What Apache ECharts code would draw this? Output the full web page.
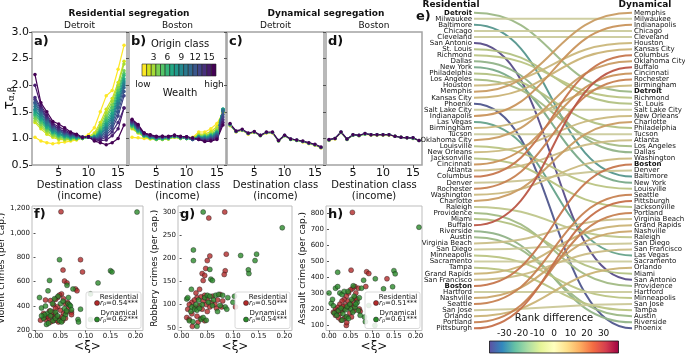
<!DOCTYPE html>
<html>
<head>
<meta charset="utf-8">
<script src="https://cdn.jsdelivr.net/npm/echarts@6/dist/echarts.min.js"></script>
<style>
html, body { margin: 0; padding: 0; background: #fff; }
#chart { width: 685px; height: 354px; }
</style>
</head>
<body>
<div id="chart"></div>
<script>
// ---- data ----
const destClasses = [1, 2, 3, 4, 5, 6, 7, 8, 9, 10, 11, 12, 13, 14, 15, 16];
const originClasses = [1, 2, 3, 4, 5, 6, 7, 8, 9, 10, 11, 12, 13, 14, 15, 16];

// tau per origin class (rows, class 1 = low wealth) over destination classes
const detroitResidential = [
  [1.02, 0.95, 0.92, 0.90, 0.92, 0.93, 0.95, 0.97, 1.02, 1.07, 1.20, 1.50, 1.80, 1.90, 2.30, 2.75],
  [1.30, 1.18, 1.08, 1.02, 0.98, 0.97, 0.97, 0.98, 1.00, 1.03, 1.10, 1.30, 1.55, 1.75, 2.05, 2.45],
  [1.33, 1.22, 1.12, 1.05, 1.00, 0.98, 0.98, 0.99, 1.00, 1.02, 1.07, 1.25, 1.48, 1.70, 2.00, 2.40],
  [1.38, 1.26, 1.15, 1.07, 1.02, 1.00, 0.99, 1.00, 1.00, 1.02, 1.05, 1.20, 1.42, 1.63, 1.95, 2.27],
  [1.42, 1.30, 1.18, 1.09, 1.04, 1.01, 1.00, 1.00, 1.00, 1.02, 1.04, 1.17, 1.38, 1.58, 1.90, 2.22],
  [1.45, 1.33, 1.20, 1.11, 1.06, 1.03, 1.01, 1.01, 1.01, 1.02, 1.03, 1.14, 1.33, 1.52, 1.85, 2.18],
  [1.48, 1.36, 1.22, 1.12, 1.07, 1.04, 1.02, 1.01, 1.01, 1.02, 1.03, 1.12, 1.28, 1.47, 1.80, 2.12],
  [1.52, 1.39, 1.25, 1.14, 1.09, 1.05, 1.03, 1.02, 1.01, 1.02, 1.02, 1.10, 1.25, 1.42, 1.75, 2.08],
  [1.55, 1.42, 1.27, 1.16, 1.10, 1.06, 1.04, 1.03, 1.02, 1.02, 1.02, 1.08, 1.21, 1.38, 1.70, 2.04],
  [1.60, 1.45, 1.30, 1.18, 1.12, 1.08, 1.05, 1.04, 1.02, 1.02, 1.01, 1.06, 1.18, 1.33, 1.65, 2.00],
  [1.65, 1.48, 1.33, 1.20, 1.14, 1.09, 1.06, 1.04, 1.02, 1.02, 1.00, 1.04, 1.14, 1.28, 1.58, 1.95],
  [1.68, 1.52, 1.36, 1.22, 1.15, 1.10, 1.07, 1.05, 1.02, 1.02, 1.00, 1.02, 1.10, 1.23, 1.50, 1.88],
  [1.73, 1.55, 1.38, 1.24, 1.17, 1.12, 1.08, 1.05, 1.02, 1.02, 0.99, 1.00, 1.06, 1.18, 1.42, 1.80],
  [1.77, 1.58, 1.40, 1.26, 1.18, 1.13, 1.09, 1.06, 1.02, 1.03, 0.98, 0.98, 1.02, 1.12, 1.30, 1.57],
  [2.00, 1.62, 1.44, 1.28, 1.22, 1.16, 1.10, 1.07, 1.01, 1.03, 0.97, 0.96, 0.97, 1.05, 1.18, 1.57],
  [2.20, 1.67, 1.50, 1.32, 1.27, 1.20, 1.12, 1.08, 1.02, 1.03, 0.95, 0.92, 0.88, 0.92, 1.00, 1.25]
];
const bostonResidential = [
  [1.02, 1.01, 1.00, 0.99, 1.00, 1.00, 1.01, 1.03, 1.01, 1.00, 1.02, 1.12, 1.12, 1.18, 1.28, 1.48],
  [1.18, 1.10, 1.03, 1.00, 0.98, 0.98, 0.99, 1.02, 1.00, 1.00, 1.01, 1.08, 1.08, 1.13, 1.22, 1.50],
  [1.20, 1.11, 1.04, 1.00, 0.98, 0.98, 0.99, 1.03, 1.00, 1.00, 1.00, 1.06, 1.06, 1.10, 1.18, 1.52],
  [1.22, 1.12, 1.04, 1.01, 0.98, 0.99, 1.00, 1.03, 1.00, 1.00, 1.00, 1.05, 1.05, 1.08, 1.15, 1.53],
  [1.23, 1.13, 1.05, 1.01, 0.99, 0.99, 1.00, 1.04, 1.01, 1.00, 0.99, 1.04, 1.04, 1.07, 1.13, 1.54],
  [1.24, 1.14, 1.05, 1.02, 0.99, 1.00, 1.01, 1.04, 1.01, 1.00, 0.99, 1.03, 1.03, 1.06, 1.12, 1.55],
  [1.25, 1.15, 1.06, 1.02, 1.00, 1.00, 1.01, 1.04, 1.01, 1.00, 0.99, 1.03, 1.02, 1.05, 1.11, 1.55],
  [1.26, 1.16, 1.06, 1.03, 1.00, 1.01, 1.01, 1.04, 1.02, 1.01, 0.99, 1.02, 1.01, 1.04, 1.10, 1.55],
  [1.27, 1.17, 1.07, 1.03, 1.01, 1.01, 1.02, 1.05, 1.02, 1.01, 0.98, 1.02, 1.01, 1.03, 1.09, 1.54],
  [1.28, 1.18, 1.07, 1.04, 1.01, 1.02, 1.02, 1.05, 1.02, 1.01, 0.98, 1.01, 1.00, 1.02, 1.08, 1.52],
  [1.29, 1.19, 1.08, 1.04, 1.02, 1.02, 1.02, 1.05, 1.02, 1.01, 0.98, 1.01, 0.99, 1.01, 1.07, 1.50],
  [1.30, 1.20, 1.08, 1.05, 1.02, 1.02, 1.03, 1.05, 1.03, 1.02, 0.99, 1.00, 0.98, 1.00, 1.05, 1.45],
  [1.31, 1.21, 1.09, 1.05, 1.02, 1.03, 1.03, 1.05, 1.03, 1.02, 0.99, 1.00, 0.97, 0.99, 1.04, 1.40],
  [1.32, 1.22, 1.09, 1.06, 1.03, 1.03, 1.03, 1.06, 1.03, 1.02, 1.00, 0.99, 0.96, 0.98, 1.02, 1.35],
  [1.34, 1.24, 1.10, 1.06, 1.03, 1.04, 1.03, 1.06, 1.03, 1.03, 1.00, 0.98, 0.95, 0.96, 1.00, 1.30],
  [1.36, 1.26, 1.10, 1.07, 1.04, 1.04, 1.04, 1.06, 1.04, 1.03, 1.01, 0.98, 0.94, 0.95, 0.98, 1.25]
];
// dynamical curves nearly coincide; a few origin classes are enough
const dynClasses = [1, 6, 11, 16];
const detroitDynamical = [
  [1.24, 1.12, 1.15, 1.08, 1.11, 1.05, 1.10, 1.10, 0.95, 1.05, 0.98, 0.96, 0.93, 0.90, 0.87, 0.82],
  [1.25, 1.13, 1.16, 1.09, 1.12, 1.05, 1.11, 1.11, 0.95, 1.05, 0.98, 0.96, 0.94, 0.91, 0.88, 0.83],
  [1.26, 1.13, 1.16, 1.09, 1.12, 1.06, 1.11, 1.11, 0.96, 1.06, 0.99, 0.97, 0.94, 0.91, 0.88, 0.83],
  [1.28, 1.14, 1.17, 1.10, 1.13, 1.06, 1.12, 1.12, 0.96, 1.06, 0.99, 0.97, 0.95, 0.92, 0.89, 0.84]
];
const bostonDynamical = [
  [0.96, 0.99, 1.11, 0.98, 1.06, 1.05, 1.08, 1.06, 1.06, 1.06, 1.06, 1.04, 1.02, 1.01, 1.00, 0.96],
  [0.97, 1.00, 1.11, 0.98, 1.06, 1.05, 1.08, 1.07, 1.07, 1.07, 1.07, 1.04, 1.02, 1.01, 1.00, 0.96],
  [0.97, 1.00, 1.12, 0.99, 1.07, 1.06, 1.09, 1.07, 1.07, 1.07, 1.07, 1.04, 1.02, 1.01, 1.01, 0.96],
  [0.98, 1.00, 1.12, 0.99, 1.07, 1.06, 1.09, 1.07, 1.07, 1.07, 1.07, 1.04, 1.02, 1.01, 1.01, 0.96]
];
const classTicks = [5, 10, 15];
const colorbarTicks = [3, 6, 9, 12, 15];

// panel e: city rankings
const residentialOrder = ['Detroit', 'Milwaukee', 'Baltimore', 'Chicago', 'Cleveland', 'San Antonio', 'St. Louis',
  'Richmond', 'Dallas', 'New York', 'Philadelphia', 'Los Angeles', 'Houston', 'Memphis', 'Kansas City', 'Phoenix',
  'Salt Lake City', 'Indianapolis', 'Las Vegas', 'Birmingham', 'Tucson', 'Oklahoma City', 'Louisville', 'New Orleans',
  'Jacksonville', 'Cincinnati', 'Atlanta', 'Columbus', 'Denver', 'Rochester', 'Washington', 'Charlotte', 'Raleigh',
  'Providence', 'Miami', 'Buffalo', 'Riverside', 'Austin', 'Virginia Beach', 'San Diego', 'Minneapolis', 'Sacramento',
  'Tampa', 'Grand Rapids', 'San Francisco', 'Boston', 'Hartford', 'Nashville', 'Seattle', 'San Jose', 'Orlando',
  'Portland', 'Pittsburgh'];
const dynamicalOrder = ['Memphis', 'Milwaukee', 'Indianapolis', 'Chicago', 'Cleveland', 'Houston', 'Kansas City',
  'Columbus', 'Oklahoma City', 'Buffalo', 'Cincinnati', 'Rochester', 'Birmingham', 'Detroit', 'Richmond', 'St. Louis',
  'Salt Lake City', 'New Orleans', 'Charlotte', 'Philadelphia', 'Tucson', 'Atlanta', 'Los Angeles', 'Dallas',
  'Washington', 'Boston', 'Denver', 'Baltimore', 'New York', 'Louisville', 'Seattle', 'Pittsburgh', 'Jacksonville',
  'Portland', 'Virginia Beach', 'Grand Rapids', 'Nashville', 'Raleigh', 'San Diego', 'San Francisco', 'Las Vegas',
  'Sacramento', 'Orlando', 'Miami', 'San Antonio', 'Providence', 'Hartford', 'Minneapolis', 'San Jose', 'Tampa',
  'Austin', 'Riverside', 'Phoenix'];
const boldCities = ['Detroit', 'Boston'];
const rankTicks = [-30, -20, -10, 0, 10, 20, 30];

// panels f-h: [<xi>, crimes per cap.]
const xiTicks = [0, 0.05, 0.10, 0.15, 0.20];
const violentTicks = [200, 400, 600, 800, 1000, 1200];
const robberyTicks = [50, 100, 150, 200, 250, 300];
const assaultTicks = [100, 200, 300, 400, 500, 600, 700, 800];
const violentResidential = [[0.051,1173],[0.090,780],[0.094,680],[0.055,695],[0.058,605],[0.063,590],[0.080,540],
  [0.083,525],[0.072,350],[0.072,330],[0.052,500],[0.048,490],[0.044,470],[0.040,455],[0.030,445],[0.020,450],
  [0.036,410],[0.044,395],[0.050,365],[0.056,340],[0.040,335],[0.032,320],[0.026,300],[0.020,290],[0.010,285],
  [0.036,280],[0.046,270],[0.052,310],[0.060,420],[0.066,385],[0.040,380],[0.028,360],[0.016,340],[0.060,300],
  [0.034,350],[0.024,315],[0.046,300],[0.056,460],[0.064,430],[0.038,300],[0.018,310],[0.042,285],[0.030,270],
  [0.054,280],[0.062,350]];
const violentDynamical = [[0.203,1170],[0.048,780],[0.150,690],[0.153,680],[0.125,590],[0.110,500],[0.028,610],
  [0.025,525],[0.063,570],[0.075,540],[0.090,375],[0.110,290],[0.085,290],[0.086,270],[0.008,470],[0.012,385],
  [0.020,400],[0.024,340],[0.030,320],[0.016,300],[0.022,250],[0.026,260],[0.035,280],[0.040,300],[0.045,480],
  [0.050,420],[0.055,440],[0.058,380],[0.060,330],[0.065,420],[0.068,410],[0.070,400],[0.072,370],[0.048,280],
  [0.052,270],[0.038,460],[0.034,420],[0.040,350],[0.018,330],[0.030,360],[0.044,320],[0.056,300],[0.062,360],
  [0.066,470],[0.012,320]];
const robberyResidential = [[0.053,287],[0.084,300],[0.055,205],[0.050,195],[0.087,209],[0.047,178],[0.040,167],
  [0.045,163],[0.085,173],[0.083,165],[0.042,152],[0.035,133],[0.028,125],[0.030,115],[0.038,117],[0.045,120],
  [0.050,112],[0.060,118],[0.070,110],[0.075,122],[0.080,108],[0.020,105],[0.015,100],[0.025,95],[0.035,98],
  [0.040,90],[0.048,100],[0.055,95],[0.065,100],[0.010,72],[0.015,68],[0.020,80],[0.030,75],[0.038,70],[0.045,65],
  [0.021,53],[0.032,62],[0.050,85],[0.058,105],[0.105,95],[0.025,110],[0.012,90],[0.042,108],[0.068,92],[0.078,95]];
const robberyDynamical = [[0.042,300],[0.196,266],[0.023,218],[0.023,195],[0.055,176],[0.057,155],[0.060,152],
  [0.115,206],[0.146,209],[0.143,195],[0.130,175],[0.131,167],[0.103,118],[0.100,105],[0.019,133],[0.010,112],
  [0.012,115],[0.020,95],[0.025,90],[0.030,88],[0.035,92],[0.045,115],[0.050,120],[0.055,118],[0.062,110],
  [0.066,120],[0.072,122],[0.075,98],[0.085,95],[0.088,90],[0.090,115],[0.015,65],[0.022,63],[0.030,53],[0.038,68],
  [0.042,72],[0.048,66],[0.028,100],[0.040,100],[0.052,105],[0.060,98],[0.018,85],[0.033,110],[0.070,85],[0.080,120]];
const assaultResidential = [[0.054,805],[0.051,443],[0.087,433],[0.092,422],[0.134,389],[0.040,97],[0.041,115],
  [0.060,340],[0.055,330],[0.050,320],[0.045,300],[0.040,280],[0.035,260],[0.030,250],[0.025,230],[0.020,210],
  [0.015,200],[0.010,180],[0.015,160],[0.025,170],[0.030,190],[0.035,200],[0.045,210],[0.050,230],[0.055,250],
  [0.060,270],[0.065,260],[0.070,200],[0.072,185],[0.040,150],[0.035,140],[0.028,130],[0.048,175],[0.058,190],
  [0.062,300],[0.038,225],[0.022,145],[0.052,150],[0.085,340],[0.068,330],[0.044,250],[0.032,215],[0.018,185],
  [0.058,215]];
const assaultDynamical = [[0.208,712],[0.020,430],[0.150,440],[0.153,420],[0.107,389],[0.147,339],[0.126,326],
  [0.092,222],[0.082,149],[0.084,120],[0.106,97],[0.000,300],[0.005,235],[0.010,220],[0.015,330],[0.020,340],
  [0.025,300],[0.030,290],[0.035,310],[0.040,150],[0.045,140],[0.050,200],[0.055,180],[0.060,210],[0.065,240],
  [0.070,270],[0.075,330],[0.080,380],[0.012,175],[0.018,160],[0.022,190],[0.028,205],[0.032,170],[0.038,195],
  [0.042,215],[0.048,230],[0.052,260],[0.058,280],[0.062,230],[0.068,190],[0.072,160],[0.030,130],[0.044,310],
  [0.056,345],[0.008,260]];

// ---- styling ----
const FONT = 'DejaVu Sans';
const INK = '#111';
const VIRIDIS = ['#440154', '#481a6c', '#472f7d', '#414487', '#39568c', '#31688e', '#2a788e', '#23888e',
  '#1f988b', '#22a884', '#35b779', '#54c568', '#7ad151', '#a5db36', '#d2e21b', '#fde725'];
const SPECTRAL_R = ['#5e4fa2', '#3288bd', '#66c2a5', '#abdda4', '#e6f598', '#ffffbf', '#fee08b', '#fdae61',
  '#f46d43', '#d53e4f', '#9e0142'];
const RES_RED = '#b22a2a';
const DYN_GREEN = '#2a8a2a';

const classColor = c => VIRIDIS[16 - c];
const hexRgb = h => [1, 3, 5].map(i => parseInt(h.slice(i, i + 2), 16));
function spectralAt(t) {
  t = Math.max(0, Math.min(1, t));
  const n = SPECTRAL_R.length - 1;
  const i = Math.min(n - 1, Math.floor(t * n));
  const f = t * n - i;
  const a = hexRgb(SPECTRAL_R[i]), b = hexRgb(SPECTRAL_R[i + 1]);
  return a.map((v, k) => v + (b[k] - v) * f);
}

// rank change per city (residential position minus dynamical position)
const rankLinks = residentialOrder.map((city, i) => {
  const j = dynamicalOrder.indexOf(city);
  return [i, j, i - j];
});
const rankMax = Math.max(...rankLinks.map(d => Math.abs(d[2])));
function linkColor(diff) {
  const c = spectralAt((diff + rankMax) / (2 * rankMax)).map(v => Math.round(v * 0.72 + 68 * 0.28));
  return 'rgba(' + c.join(',') + ',0.95)';
}

const grid = [], xAxis = [], yAxis = [], series = [], graphic = [];
const txt = (text, x, y, size, opts = {}) => graphic.push({
  type: 'text', x, y, rotation: opts.rotation || 0, z: 50,
  style: {
    text, fill: INK, font: (opts.bold ? 'bold ' : '') + size + 'px "' + FONT + '"',
    textAlign: opts.align || 'center', textVerticalAlign: opts.valign || 'middle',
    align: opts.align || 'center', verticalAlign: opts.valign || 'middle', rich: opts.rich
  }
});

// ---- panels a-d ----
const TOP = 32, TOP_H = 133;
const topPanels = [
  { left: 32, width: 95, rows: detroitResidential, classes: originClasses, letter: 'a)', city: 'Detroit' },
  { left: 129, width: 97, rows: bostonResidential, classes: originClasses, letter: 'b)', city: 'Boston' },
  { left: 227, width: 97, rows: detroitDynamical, classes: dynClasses, letter: 'c)', city: 'Detroit' },
  { left: 326, width: 96, rows: bostonDynamical, classes: dynClasses, letter: 'd)', city: 'Boston' }
];
topPanels.forEach((p, i) => {
  grid.push({ left: p.left, top: TOP, width: p.width, height: TOP_H, show: true,
    borderColor: '#a3a3a3', borderWidth: 1.5, outerBoundsMode: 'none' });
  xAxis.push({ type: 'value', gridIndex: i, min: 0.5, max: 16.5, splitLine: { show: false },
    axisLine: { show: false },
    axisTick: { length: 3, customValues: classTicks, lineStyle: { color: '#555' } },
    axisLabel: { customValues: classTicks, fontSize: 11, color: INK, margin: 3, fontFamily: FONT },
    name: 'Destination class\n(income)', nameLocation: 'middle', nameGap: 14,
    nameTextStyle: { fontSize: 10, lineHeight: 11, color: INK, fontFamily: FONT } });
  yAxis.push({ type: 'value', gridIndex: i, min: 0.5, max: 3, interval: 0.5, splitLine: { show: false },
    axisLine: { show: false },
    axisTick: { show: true, length: 3, lineStyle: { color: '#555' } },
    axisLabel: { show: i === 0, formatter: v => v.toFixed(1), fontSize: 11, color: INK, margin: 3, fontFamily: FONT } });
  p.rows.forEach((row, k) => {
    const col = classColor(p.classes[k]);
    series.push({ type: 'line', xAxisIndex: i, yAxisIndex: i, symbol: 'circle', symbolSize: 3.5,
      data: row.map((v, j) => [destClasses[j], v]),
      lineStyle: { width: 1.2, color: col }, itemStyle: { color: col } });
  });
  txt(p.letter, p.left + 2, TOP + 3, 13, { bold: true, align: 'left', valign: 'top' });
  txt(p.city, p.left + p.width / 2, 26, 9);
});
txt('Residential segregation', 129, 14, 9, { bold: true });
txt('Dynamical segregation', 326, 14, 9, { bold: true });
// y label tau_{alpha,beta}
txt('{t|τ}{s|α,β}', 9, 98, 13, { rotation: Math.PI / 2,
  rich: { t: { fontSize: 14, fontFamily: FONT, fill: INK },
    s: { fontSize: 9, fontFamily: FONT, fill: INK, verticalAlign: 'bottom', padding: [5, 0, 0, 0] } } });

// colour bar of origin classes inside panel b
const cbGrid = grid.length;
grid.push({ left: 142, top: 64, width: 74, height: 12, outerBoundsMode: 'none' });
xAxis.push({ type: 'value', gridIndex: cbGrid, position: 'top', min: 0.5, max: 16.5, splitLine: { show: false },
  axisLine: { show: false }, axisTick: { show: false },
  axisLabel: { customValues: colorbarTicks, fontSize: 9, color: INK, margin: 2, fontFamily: FONT } });
yAxis.push({ type: 'value', gridIndex: cbGrid, min: 0, max: 1, show: false });
series.push({ type: 'custom', xAxisIndex: cbGrid, yAxisIndex: cbGrid, data: originClasses.map(c => [c]),
  encode: { x: 0 },
  renderItem: (params, api) => {
    const c = api.value(0);
    const a = api.coord([c - 0.5, 1]), b = api.coord([c + 0.5, 0]);
    return { type: 'rect', shape: { x: a[0], y: a[1], width: b[0] - a[0], height: b[1] - a[1] },
      style: { fill: classColor(c), stroke: '#222', lineWidth: 0.6 } };
  } });
txt('Origin class', 180, 44, 10);
txt('low', 143, 85, 9);
txt('high', 214, 85, 9);
txt('Wealth', 180, 93, 10);

// ---- panel e: rank changes ----
const eGrid = grid.length;
grid.push({ left: 474, top: 9.7, width: 158, height: 321.7, outerBoundsMode: 'none' });
xAxis.push({ type: 'value', gridIndex: eGrid, min: 0, max: 1, show: false });
const cityLabel = {
  interval: 0, fontSize: 7, color: INK, fontFamily: FONT, margin: 2,
  formatter: n => boldCities.includes(n) ? '{b|' + n + '}' : n,
  rich: { b: { fontSize: 7, fontWeight: 'bold', color: INK, fontFamily: FONT } }
};
const eLeft = yAxis.length;
yAxis.push({ type: 'category', gridIndex: eGrid, data: residentialOrder, inverse: true, position: 'left',
  axisLine: { show: false }, axisTick: { show: false }, axisLabel: cityLabel });
yAxis.push({ type: 'category', gridIndex: eGrid, data: dynamicalOrder, inverse: true, position: 'right',
  axisLine: { show: false }, axisTick: { show: false }, axisLabel: cityLabel });
series.push({ type: 'custom', xAxisIndex: eGrid, yAxisIndex: eLeft, data: rankLinks,
  encode: { y: 0, x: 2 },
  renderItem: (params, api) => {
    const p1 = api.coord([0, api.value(0)]);
    const p2 = api.coord([1, api.value(1)]);
    const mx = (p1[0] + p2[0]) / 2;
    return { type: 'bezierCurve',
      shape: { x1: p1[0], y1: p1[1], x2: p2[0], y2: p2[1], cpx1: mx, cpy1: p1[1], cpx2: mx, cpy2: p2[1] },
      style: { stroke: linkColor(api.value(2)), lineWidth: 2, fill: null } };
  } });
txt('Residential', 451, 5, 9, { bold: true });
txt('Dynamical', 645, 5, 9, { bold: true });
txt('e)', 416, 17, 13, { bold: true, align: 'left' });

// rank difference colour bar
const rGrid = grid.length;
grid.push({ left: 489.5, top: 341, width: 129, height: 12, outerBoundsMode: 'none' });
xAxis.push({ type: 'value', gridIndex: rGrid, position: 'top', min: -rankMax, max: rankMax, splitLine: { show: false },
  axisLine: { show: false }, axisTick: { customValues: rankTicks, length: 2, lineStyle: { color: '#333' } },
  axisLabel: { customValues: rankTicks, fontSize: 9, color: INK, margin: 3, fontFamily: FONT,
    showMinLabel: true, showMaxLabel: true, hideOverlap: false,
    formatter: v => String(v) },
  name: 'Rank difference', nameLocation: 'middle', nameGap: 18,
  nameTextStyle: { fontSize: 10, color: INK, fontFamily: FONT } });
yAxis.push({ type: 'value', gridIndex: rGrid, min: 0, max: 1, show: false });
series.push({ type: 'custom', xAxisIndex: rGrid, yAxisIndex: yAxis.length - 1, data: [[-rankMax, rankMax]],
  encode: { x: [0, 1] },
  renderItem: (params, api) => {
    const a = api.coord([api.value(0), 1]), b = api.coord([api.value(1), 0]);
    return { type: 'rect', shape: { x: a[0], y: a[1], width: b[0] - a[0], height: b[1] - a[1] },
      style: { fill: new echarts.graphic.LinearGradient(0, 0, 1, 0,
        SPECTRAL_R.map((c, i) => ({ offset: i / (SPECTRAL_R.length - 1), color: c }))),
        stroke: '#111', lineWidth: 0.8 } };
  } });

// ---- panels f-h ----
const scatterPanels = [
  { left: 32, width: 111, letter: 'f)', name: 'Violent crimes (per cap.)', min: 200, max: 1220, ticks: violentTicks,
    res: violentResidential, dyn: violentDynamical, r: ['0.54', '0.62'], gap: 21 },
  { left: 178, width: 114, letter: 'g)', name: 'Robbery crimes (per cap.)', min: 44, max: 313, ticks: robberyTicks,
    res: robberyResidential, dyn: robberyDynamical, r: ['0.50', '0.54'], gap: 16 },
  { left: 326, width: 96, letter: 'h)', name: 'Assault crimes (per cap.)', min: 65, max: 845, ticks: assaultTicks,
    res: assaultResidential, dyn: assaultDynamical, r: ['0.51', '0.61'], gap: 16 }
];
const S_TOP = 206, S_H = 124.5;
const rRich = { i: { fontStyle: 'italic', fontSize: 7, fontFamily: FONT, fill: INK },
  s: { fontSize: 5, fontFamily: FONT, fill: INK, verticalAlign: 'bottom' },
  n: { fontSize: 7, fontFamily: FONT, fill: INK } };
scatterPanels.forEach(p => {
  const gi = grid.length;
  grid.push({ left: p.left, top: S_TOP, width: p.width, height: S_H, show: true,
    borderColor: '#bdbdbd', borderWidth: 1, outerBoundsMode: 'none' });
  xAxis.push({ type: 'value', gridIndex: gi, min: -0.007, max: 0.215, splitLine: { show: false },
    axisLine: { show: false }, axisTick: { customValues: xiTicks, length: 2, lineStyle: { color: '#555' } },
    axisLabel: { customValues: xiTicks, formatter: v => v.toFixed(2), fontSize: 7, color: INK, margin: 2, fontFamily: FONT },
    name: '<ξ>', nameLocation: 'middle', nameGap: 9,
    nameTextStyle: { fontSize: 12, color: INK, fontFamily: FONT, verticalAlign: 'top' } });
  yAxis.push({ type: 'value', gridIndex: gi, min: p.min, max: p.max, splitLine: { show: false },
    axisLine: { show: false }, axisTick: { customValues: p.ticks, length: 2, lineStyle: { color: '#555' } },
    axisLabel: { customValues: p.ticks, fontSize: 7, color: INK, margin: 2, fontFamily: FONT },
    name: p.name, nameLocation: 'middle', nameGap: p.gap,
    nameTextStyle: { fontSize: 9, color: INK, fontFamily: FONT } });
  const yi = yAxis.length - 1;
  [[p.res, RES_RED], [p.dyn, DYN_GREEN]].forEach(([pts, col]) => series.push({
    type: 'scatter', xAxisIndex: gi, yAxisIndex: yi, data: pts, symbolSize: 5,
    itemStyle: { color: col, borderColor: '#1a1a1a', borderWidth: 0.5 } }));
  txt(p.letter, p.left + 2, S_TOP + 2, 13, { bold: true, align: 'left', valign: 'top' });
  // legend box, lower right
  const lx = p.left + p.width - 57, ly = S_TOP + 86;
  graphic.push({ type: 'rect', z: 40, shape: { x: lx, y: ly, width: 55, height: 36.5, r: 2 },
    style: { fill: 'rgba(255,255,255,0.85)', stroke: '#d0d0d0', lineWidth: 0.8 } });
  txt('Residential', lx + 33, ly + 5, 7);
  txt('{i|r}{s|ρ}{n|=' + p.r[0] + '***}', lx + 14, ly + 11, 7, { align: 'left', rich: rRich });
  txt('Dynamical', lx + 33, ly + 21, 7);
  txt('{i|r}{s|ρ}{n|=' + p.r[1] + '***}', lx + 14, ly + 27.5, 7, { align: 'left', rich: rRich });
  graphic.push({ type: 'circle', z: 50, shape: { cx: lx + 11, cy: ly + 11, r: 2.5 },
    style: { fill: RES_RED, stroke: '#1a1a1a', lineWidth: 0.5 } });
  graphic.push({ type: 'circle', z: 50, shape: { cx: lx + 11, cy: ly + 27.5, r: 2.5 },
    style: { fill: DYN_GREEN, stroke: '#1a1a1a', lineWidth: 0.5 } });
});

const chart = echarts.init(document.getElementById('chart'), null, { renderer: 'canvas' });
chart.setOption({
  animation: false,
  backgroundColor: '#fff',
  textStyle: { fontFamily: FONT },
  grid, xAxis, yAxis, series, graphic
});
</script>
</body>
</html>
